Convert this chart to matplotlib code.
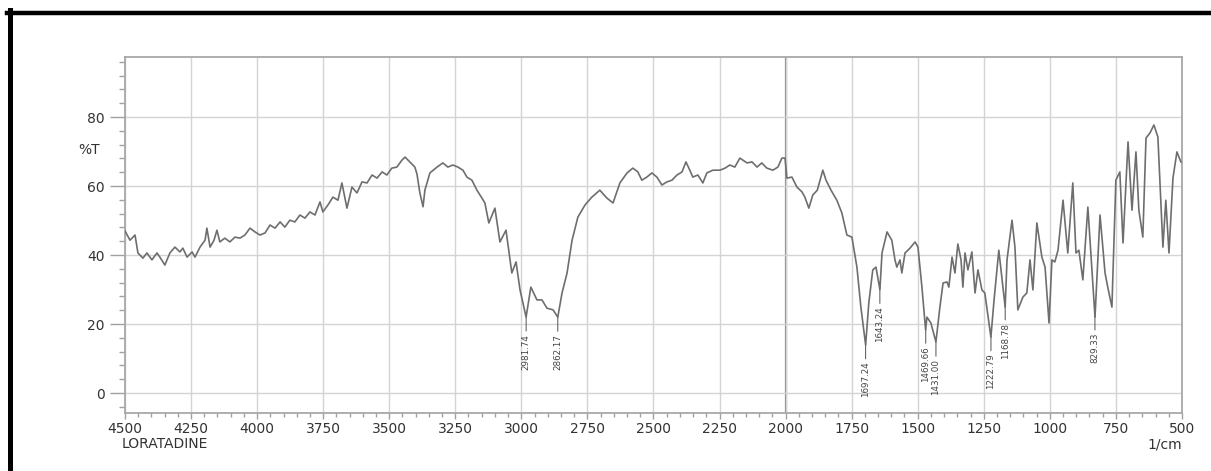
import numpy as np
import matplotlib
matplotlib.use("Agg")
import matplotlib.pyplot as plt
import matplotlib.transforms as mtransforms
from matplotlib.lines import Line2D
from matplotlib.ticker import MultipleLocator

# IR spectrum of loratadine (wavenumber in 1/cm, %T)
wavenumber = [
    4500, 4481, 4462, 4451, 4432, 4417, 4398, 4379, 4368, 4349, 4330, 4311, 4292, 4281,
    4265, 4246, 4235, 4216, 4197, 4190, 4178, 4163, 4152, 4141, 4122, 4103, 4084, 4065,
    4046, 4027, 4008, 3989, 3970, 3951, 3932, 3913, 3895, 3876, 3857, 3838, 3819, 3800,
    3781, 3762, 3751, 3732, 3713, 3694, 3679, 3660, 3641, 3622, 3603, 3584, 3565, 3546,
    3527, 3509, 3490, 3471, 3452, 3440, 3422, 3403, 3395, 3384, 3372, 3365, 3346, 3319,
    3297, 3278, 3259, 3240, 3221, 3206, 3187, 3168, 3149, 3138, 3123, 3100, 3081, 3058,
    3036, 3020, 3005, 2982, 2964, 2941, 2922, 2903, 2880, 2862, 2846, 2827, 2808, 2786,
    2759, 2733, 2703, 2676, 2653, 2627, 2600, 2578, 2559, 2544, 2525, 2506, 2487, 2468,
    2449, 2430, 2411, 2392, 2377, 2366, 2351, 2332, 2313, 2298, 2275, 2248, 2229, 2211,
    2192, 2173, 2146, 2127, 2108, 2090, 2071, 2048, 2029, 2014, 2002, 1995, 1976, 1957,
    1938, 1927, 1912, 1897, 1880, 1859, 1847, 1828, 1806, 1787, 1768, 1749, 1730, 1715,
    1697, 1685, 1670, 1658, 1643, 1635, 1616, 1598, 1586, 1579, 1567, 1560, 1548, 1529,
    1510, 1499, 1484, 1470, 1465, 1450, 1431, 1416, 1404, 1389, 1382, 1370, 1359, 1348,
    1336, 1329, 1321, 1310, 1295, 1283, 1272, 1257, 1246, 1223, 1211, 1193, 1169, 1162,
    1143, 1132, 1121, 1102, 1087, 1075, 1064, 1049, 1030, 1018, 1003, 992, 981, 969,
    950, 932, 913, 901, 890, 875, 856, 829, 810, 791, 780, 765, 750, 735,
    723, 704, 689, 674, 663, 648, 636, 621, 606, 591, 572, 561, 549, 534,
    519, 504,
]
transmittance = [
    47.0, 44.3, 45.8, 40.6, 39.1, 40.6, 38.6, 40.6, 39.4, 37.1, 40.6, 42.3, 40.9, 42.0,
    39.4, 40.9, 39.4, 42.3, 44.3, 47.8, 42.3, 44.3, 47.2, 43.8, 44.9, 43.8, 45.2, 44.9,
    45.8, 47.8, 46.7, 45.8, 46.4, 48.7, 47.8, 49.6, 48.1, 50.1, 49.6, 51.6, 50.7, 52.5,
    51.6, 55.4, 52.5, 54.5, 56.8, 55.9, 60.9, 53.6, 59.7, 58.0, 61.2, 60.9, 63.2, 62.3,
    64.1, 63.2, 65.2, 65.5, 67.5, 68.4, 67.0, 65.5, 63.5, 58.0, 54.0, 58.8, 63.8, 65.5,
    66.7, 65.5, 66.1, 65.5, 64.6, 62.6, 61.7, 58.8, 56.5, 55.1, 49.3, 53.6, 43.8, 47.2,
    34.8, 38.0, 29.9, 22.0, 30.7, 27.0, 27.0, 24.6, 24.1, 22.0, 29.0, 34.8, 44.3, 51.0,
    54.5, 56.8, 58.8, 56.5, 55.1, 60.9, 63.8, 65.2, 64.1, 61.7, 62.6, 63.8, 62.6, 60.3,
    61.2, 61.7, 63.2, 64.1, 67.0, 65.2, 62.6, 63.2, 60.9, 63.8, 64.6, 64.6, 65.2, 66.1,
    65.5, 68.1, 66.7, 67.0, 65.5, 66.7, 65.2, 64.6, 65.5, 68.1, 68.1, 62.3, 62.6, 59.7,
    58.3, 56.8, 53.6, 57.4, 58.8, 64.6, 61.7, 58.8, 55.9, 52.2, 45.8, 45.2, 36.5, 24.9,
    13.9, 26.1, 35.7, 36.5, 30.0, 40.6, 46.7, 44.3, 38.6, 36.5, 38.6, 34.8, 40.6, 42.0,
    43.8, 42.3, 30.7, 18.3, 22.0, 20.3, 14.8, 24.9, 31.9, 32.2, 30.7, 39.4, 34.8, 43.2,
    38.6, 30.7, 40.6, 35.7, 40.9, 29.0, 35.7, 29.9, 29.0, 16.2, 27.0, 41.4, 24.9, 38.6,
    50.1, 42.3, 24.1, 27.8, 29.0, 38.6, 29.9, 49.3, 39.4, 36.5, 20.3, 38.6, 38.0, 41.4,
    55.9, 40.6, 60.9, 40.6, 41.4, 32.8, 53.9, 22.0, 51.6, 34.8, 30.4, 24.9, 61.7, 64.1,
    43.5, 72.8, 53.0, 69.9, 53.0, 45.2, 73.9, 75.4, 77.7, 74.2, 42.3, 55.9, 40.6, 62.3,
    69.9, 67.0,
]
peak_labels = ["2981.74", "2862.17", "1697.24", "1643.24", "1469.66",
               "1431.00", "1222.79", "1168.78", "829.33"]

fig = plt.figure(figsize=(12.11, 4.71), dpi=100)
ax = fig.add_axes([0.1032, 0.1231, 0.8728, 0.7558])

ax.plot(wavenumber, transmittance, color="#6e6e6e", lw=1.2, zorder=3)

ax.set_xlim(4500, 500)
ax.set_ylim(-5.8, 97.4)

ax.xaxis.set_major_locator(MultipleLocator(250))
ax.xaxis.set_minor_locator(MultipleLocator(50))
ax.yaxis.set_major_locator(MultipleLocator(20))
ax.yaxis.set_minor_locator(MultipleLocator(4))

ax.grid(True, which="major", color="#d4d4d4", lw=1.0, zorder=0)
ax.axvline(2000, color="#8a8a8a", lw=1.6, zorder=1)

for s in ax.spines.values():
    s.set_color("#a8a8a8")
    s.set_linewidth(1.3)

ax.tick_params(axis="x", which="major", length=4, width=1, color="#a0a0a0",
               pad=2.5, labelsize=10, labelcolor="#333333")
ax.tick_params(axis="x", which="minor", length=3, width=1, color="#a0a0a0")
ax.tick_params(axis="y", which="major", length=11, width=1, color="#a0a0a0",
               pad=3.5, labelsize=10, labelcolor="#333333")
ax.tick_params(axis="y", which="minor", length=4.5, width=1, color="#a0a0a0")

# peak labels, vertical, hanging under each minimum
wn_r = np.array(wavenumber[::-1], dtype=float)
t_r = np.array(transmittance[::-1], dtype=float)
for lab in peak_labels:
    pos = float(lab)
    t = np.interp(pos, wn_r, t_r)
    ax.annotate(lab, xy=(pos, t), xytext=(0, -17), textcoords="offset pixels",
                rotation=90, ha="center", va="top", fontsize=6.3, color="#444444",
                arrowprops=dict(arrowstyle="-", color="#666666", lw=0.8,
                                shrinkA=0, shrinkB=0), zorder=4)

trans = mtransforms.blended_transform_factory(ax.transAxes, ax.transData)
ax.text(-0.0237, 70.4, "%T", transform=trans, ha="right", va="center",
        fontsize=10, color="#333333")

fig.text(122 / 1211, 1 - 444 / 471, "LORATADINE", ha="left", va="center",
         fontsize=10, color="#333333")
fig.text(1182 / 1211, 1 - 444 / 471, "1/cm", ha="right", va="center",
         fontsize=10, color="#333333")

# black frame on top and left edge of the screenshot
fig.add_artist(Line2D([7 / 1211, 1], [1 - 12.5 / 471] * 2, color="black", lw=3.2,
                      transform=fig.transFigure))
fig.add_artist(Line2D([9.5 / 1211] * 2, [0, 1 - 10 / 471], color="black", lw=3.6,
                      transform=fig.transFigure))

fig.savefig("out.png", dpi=100)
